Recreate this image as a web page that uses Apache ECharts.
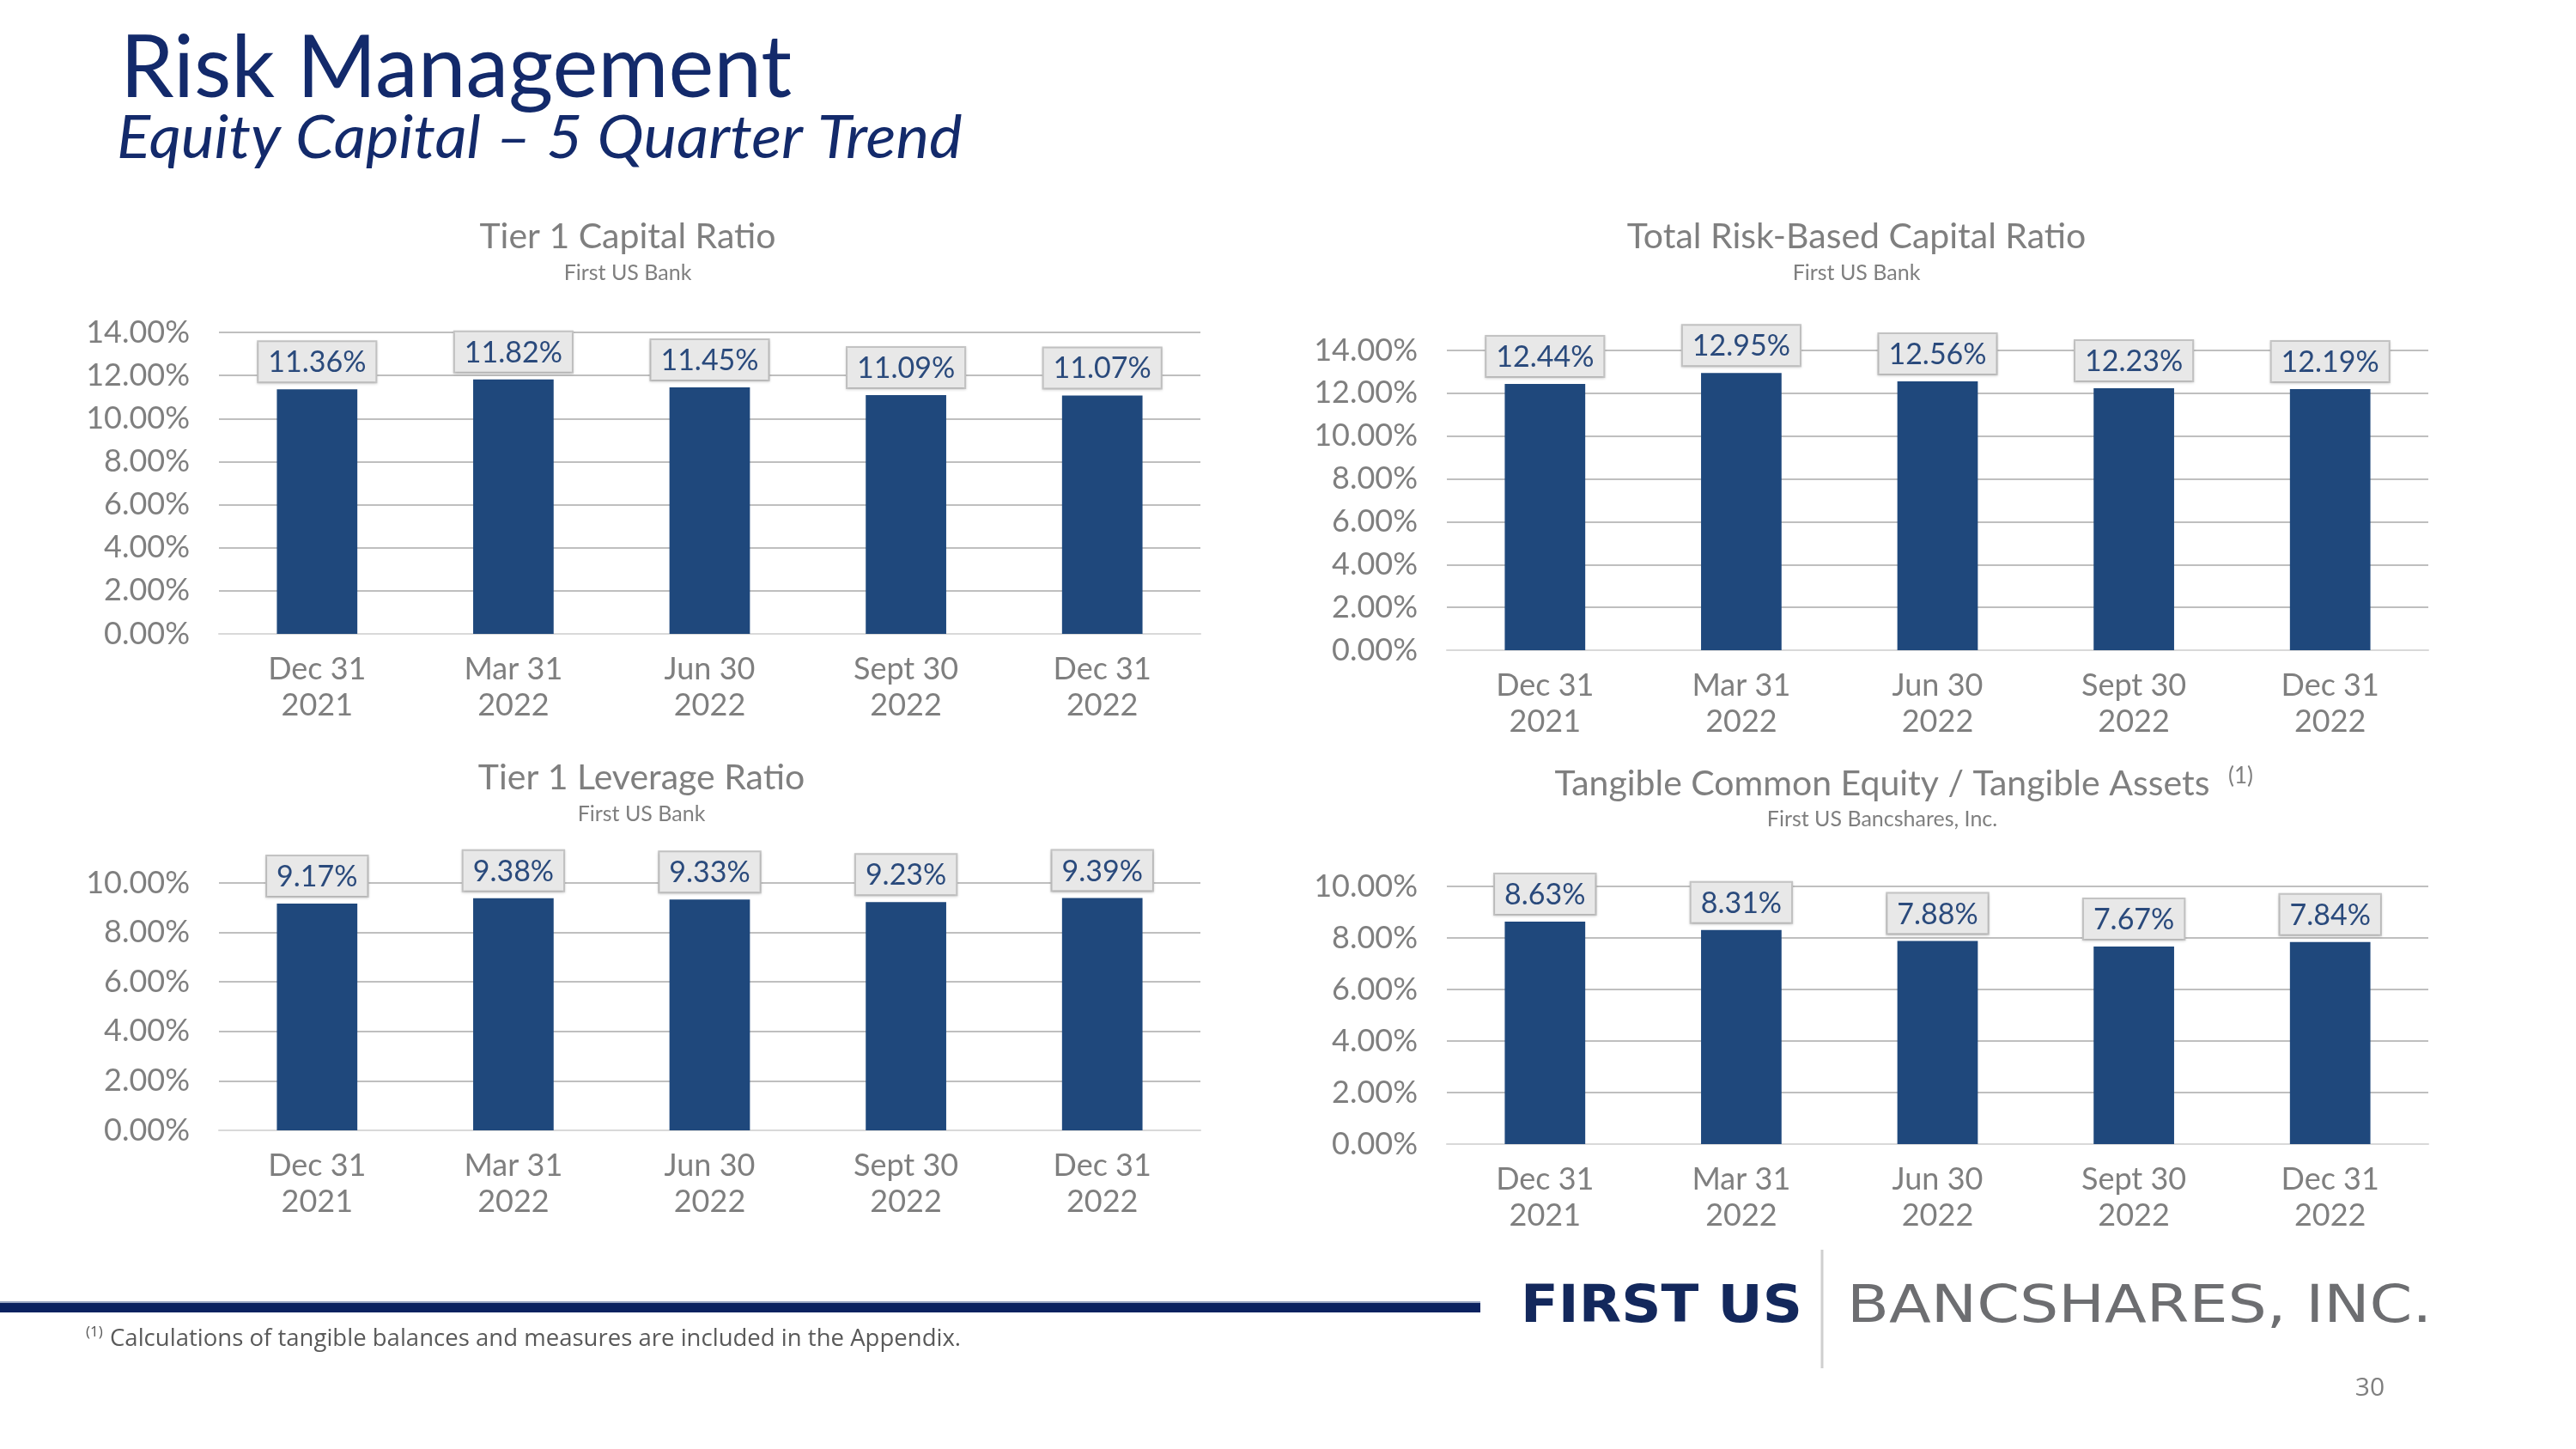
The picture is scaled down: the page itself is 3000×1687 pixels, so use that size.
<!DOCTYPE html>
<html>
<head>
<meta charset="utf-8">
<script src="https://cdn.jsdelivr.net/npm/echarts@6/dist/echarts.min.js"></script>
<style>
html,body{margin:0;padding:0;background:#fff;}
#c{width:3000px;height:1687px;}
</style>
</head>
<body>
<div id="c"></div>
<script>
// ---- data ----
const categories = ['Dec 31\n2021', 'Mar 31\n2022', 'Jun 30\n2022', 'Sept 30\n2022', 'Dec 31\n2022'];
const tier1Capital = [11.36, 11.82, 11.45, 11.09, 11.07];
const totalRiskBased = [12.44, 12.95, 12.56, 12.23, 12.19];
const tier1Leverage = [9.17, 9.38, 9.33, 9.23, 9.39];
const tceToTa = [8.63, 8.31, 7.88, 7.67, 7.84];
const axisMaxes = [14, 14, 10, 10];
const axisStep = 2;
const chartTitles = ['Tier 1 Capital Ratio', 'Total Risk-Based Capital Ratio', 'Tier 1 Leverage Ratio', 'Tangible Common Equity / Tangible Assets'];
const chartSubtitles = ['First US Bank', 'First US Bank', 'First US Bank', 'First US Bancshares, Inc.'];

const FONT = 'Lato, "Noto Sans", sans-serif';
const GRAY = '#7f7f7f';
const BAR = '#1f487c';
const NAVY = '#132a6b';

const grids = [
  {left: 255, top: 387, width: 1143, height: 351},
  {left: 1685, top: 408, width: 1143, height: 349},
  {left: 255, top: 1028, width: 1143, height: 288},
  {left: 1685, top: 1032, width: 1143, height: 300}
];
const seriesData = [tier1Capital, totalRiskBased, tier1Leverage, tceToTa];
const titlePos = [
  {x: 731, y: 276, sy: 318},
  {x: 2162, y: 276, sy: 318},
  {x: 747, y: 906, sy: 948},
  {x: 2192, y: 913, sy: 954}
];

const chart = echarts.init(document.getElementById('c'), null, {renderer: 'canvas'});

const xAxes = grids.map((g, i) => ({
  type: 'category', gridIndex: i, data: categories,
  axisTick: {show: false},
  axisLine: {show: true, lineStyle: {color: '#d9d9d9', width: 2}},
  axisLabel: {color: GRAY, fontFamily: FONT, fontSize: 36, lineHeight: 42, margin: 20}
}));
const yAxes = grids.map((g, i) => ({
  type: 'value', gridIndex: i, min: 0, max: axisMaxes[i], interval: axisStep,
  axisLine: {show: false}, axisTick: {show: false},
  axisLabel: {color: GRAY, fontFamily: FONT, fontSize: 36, margin: 34,
    formatter: v => v.toFixed(2) + '%'},
  splitLine: {lineStyle: {color: '#bfbfbf', width: 2}}
}));
const series = seriesData.map((d, i) => ({
  type: 'bar', xAxisIndex: i, yAxisIndex: i, data: d,
  barWidth: '41%',
  itemStyle: {color: BAR},
  label: {
    show: true, position: 'top', distance: 9,
    formatter: p => p.value.toFixed(2) + '%',
    color: '#2a4a7c', fontFamily: FONT, fontSize: 34,
    backgroundColor: '#e8e8e8', borderColor: '#c4c4c4', borderWidth: 2,
    padding: [7, 11, 5, 11],
    shadowColor: 'rgba(0,0,0,0.15)', shadowBlur: 3, shadowOffsetY: 1
  }
}));

const graphics = [];
// main titles
graphics.push({type: 'text', x: 140, y: 81, style: {text: 'Risk Management', fill: NAVY, font: '100px ' + FONT, align: 'left', verticalAlign: 'middle'}});
graphics.push({type: 'text', x: 136, y: 161, style: {text: 'Equity Capital \u2013 5 Quarter Trend', fill: NAVY, font: 'italic 70px ' + FONT, align: 'left', verticalAlign: 'middle'}, scaleX: 1.04});
// chart titles
titlePos.forEach((p, i) => {
  graphics.push({type: 'text', x: p.x, y: p.y, style: {text: chartTitles[i], fill: GRAY, font: '41px ' + FONT, align: 'center', verticalAlign: 'middle'}});
  graphics.push({type: 'text', x: p.x, y: p.sy, style: {text: chartSubtitles[i], fill: GRAY, font: '25px ' + FONT, align: 'center', verticalAlign: 'middle'}});
});
graphics.push({type: 'text', x: 2595, y: 904, style: {text: '(1)', fill: GRAY, font: '26px ' + FONT, align: 'left', verticalAlign: 'middle'}});
// footer bar
graphics.push({type: 'rect', shape: {x: 0, y: 1517, width: 1724, height: 11}, style: {fill: '#0b2260'}});
graphics.push({type: 'rect', shape: {x: 0, y: 1515, width: 1724, height: 2}, style: {fill: '#9aa6c2'}});
// logo
graphics.push({type: 'text', x: 1771, y: 1523, scaleX: 1.07, style: {text: 'FIRST US', fill: '#13285c', font: 'bold 60px "DejaVu Sans", sans-serif', align: 'left', verticalAlign: 'middle'}});
graphics.push({type: 'line', shape: {x1: 2122, y1: 1455, x2: 2122, y2: 1593}, style: {stroke: '#cfcfcf', lineWidth: 3}});
graphics.push({type: 'text', x: 2151, y: 1523, scaleX: 1.17, style: {text: 'BANCSHARES, INC.', fill: '#6d6e71', font: '61px "DejaVu Sans", sans-serif', align: 'left', verticalAlign: 'middle'}});
// footnote
graphics.push({type: 'text', x: 100, y: 1551, style: {text: '(1)', fill: '#595959', font: '17px "Open Sans", sans-serif', align: 'left', verticalAlign: 'middle'}});
graphics.push({type: 'text', x: 128, y: 1559, style: {text: 'Calculations of tangible balances and measures are included in the Appendix.', fill: '#595959', font: '27px "Open Sans", sans-serif', align: 'left', verticalAlign: 'middle'}, scaleX: 1.02});
// page number
graphics.push({type: 'text', x: 2760, y: 1616, style: {text: '30', fill: '#7f7f7f', font: '30px "Open Sans", sans-serif', align: 'center', verticalAlign: 'middle'}});

chart.setOption({
  backgroundColor: '#ffffff',
  animation: false,
  grid: grids,
  xAxis: xAxes,
  yAxis: yAxes,
  series: series,
  graphic: graphics
});
</script>
</body>
</html>
